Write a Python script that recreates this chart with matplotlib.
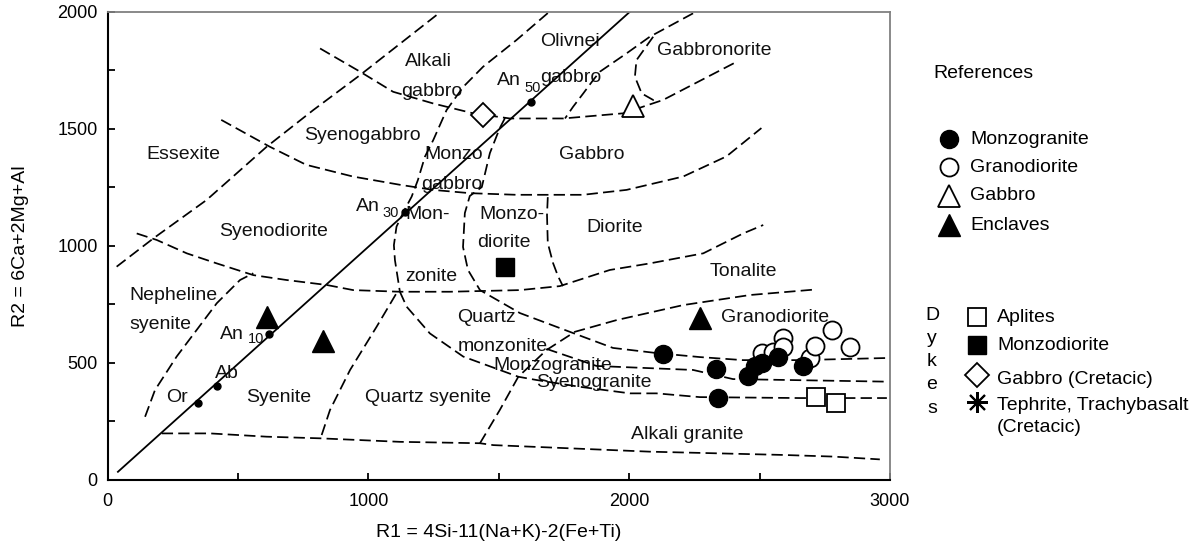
import numpy as np
import matplotlib.pyplot as plt

plt.rcParams['font.family'] = ['Liberation Sans', 'DejaVu Sans']

# samples, R1 / R2 values
monzogranite_x = [2129, 2331, 2339, 2456, 2482, 2508, 2571, 2667]
monzogranite_y = [538, 474, 350, 444, 487, 501, 526, 487]
granodiorite_x = [2508, 2552, 2590, 2590, 2693, 2712, 2776, 2846]
granodiorite_y = [541, 548, 605, 569, 520, 573, 640, 569]
gabbro_x = [2015]
gabbro_y = [1597]
enclave_x = [610, 827, 2271]
enclave_y = [695, 595, 690]
aplite_x = [2718, 2792]
aplite_y = [356, 330]
dyke_monzodiorite_x = [1524]
dyke_monzodiorite_y = [911]
gabbro_cret_x = [1440]
gabbro_cret_y = [1559]

# plagioclase line
plag_line_x = [40, 2003]
plag_line_y = [35, 2000]
plag_names = ['Or', 'Ab', 'An10', 'An30', 'An50']
plag_x = [346, 421, 619, 1140, 1623]
plag_y = [328, 403, 623, 1143, 1613]

# field boundaries (dashed)
bA_x = [35, 176, 380, 610, 789, 968, 1262]
bA_y = [911, 1032, 1196, 1423, 1580, 1729, 1986]
bB_x = [815, 968, 1095, 1249, 1402, 1543, 1747, 1977, 2130, 2412]
bB_y = [1843, 1744, 1658, 1608, 1566, 1544, 1544, 1566, 1623, 1786]
bC_x = [436, 621, 762, 941, 1120, 1248, 1389, 1568, 1823, 1990, 2207, 2373, 2507]
bC_y = [1538, 1424, 1346, 1296, 1261, 1239, 1225, 1218, 1218, 1239, 1296, 1382, 1503]
bD_x = [112, 189, 304, 419, 559, 687, 840, 942, 1121, 1313, 1581, 1734, 1926, 2079, 2284, 2437, 2514]
bD_y = [1053, 1025, 968, 925, 875, 854, 833, 811, 804, 804, 811, 828, 897, 925, 968, 1053, 1089]
bE_x = [1428, 1504, 1575, 1683, 1792, 1952, 2207, 2463, 2718]
bE_y = [157, 299, 441, 555, 633, 683, 747, 790, 814]
bF_x = [1121, 1147, 1236, 1364, 1575, 1645, 1811, 2003, 2105, 2271, 2654, 2988]
bF_y = [804, 740, 626, 527, 441, 427, 398, 370, 370, 354, 350, 350]
bH_x = [1688, 1568, 1440, 1364, 1300, 1249, 1217, 1190, 1166, 1134, 1108, 1098, 1102, 1121]
bH_y = [1994, 1879, 1765, 1679, 1580, 1452, 1381, 1281, 1210, 1143, 1082, 1003, 939, 804]
bI_x = [2245, 2079, 1990, 1888, 1862, 1824, 1785, 1754]
bI_y = [1993, 1893, 1822, 1744, 1708, 1651, 1594, 1544]
bJ_x = [1524, 1504, 1466, 1435, 1389, 1370, 1363, 1382, 1428, 1581, 1784, 1938, 2106, 2271, 2436, 2654, 2988]
bJ_y = [1546, 1503, 1396, 1251, 1213, 1140, 995, 897, 811, 713, 628, 564, 542, 525, 512, 512, 521]
bL_x = [1688, 1685, 1688, 1708, 1727, 1746]
bL_y = [1208, 1132, 1012, 927, 871, 828]
bM_x = [208, 393, 610, 815, 1121, 1428, 1479, 2079, 2590, 2782, 2961]
bM_y = [199, 199, 185, 178, 163, 157, 149, 121, 107, 100, 88]
bN_x = [1683, 1875, 2245, 2398, 2988]
bN_y = [560, 487, 470, 431, 420]
bO_x = [144, 182, 265, 342, 419, 508, 559]
bO_y = [270, 384, 527, 641, 755, 854, 883]
bP_x = [821, 853, 930, 1032, 1115]
bP_y = [192, 299, 470, 655, 811]
bQ_x = [2092, 2028, 2022, 2048, 2092, 2111]
bQ_y = [1893, 1793, 1722, 1651, 1623, 1628]

# field names
field_names = ['Alkali', 'gabbro', 'Olivnei', 'gabbro', 'Gabbronorite', 'Essexite',
               'Syenogabbro', 'Monzo', 'gabbro', 'Gabbro', 'Syenodiorite', 'Monzo-',
               'diorite', 'Diorite', 'Mon-', 'zonite', 'Tonalite', 'Nepheline', 'syenite',
               'Quartz', 'monzonite', 'Granodiorite', 'Syenite', 'Quartz syenite',
               'Monzogranite', 'Syenogranite', 'Alkali granite']
field_x = [1232, 1244, 1773, 1777, 2325, 291, 977, 1328, 1320, 1856, 638, 1552,
           1520, 1945, 1229, 1243, 2437, 252, 201, 1454, 1514, 2559, 657, 1230,
           1708, 1865, 2223]
field_y = [1789, 1661, 1872, 1719, 1833, 1392, 1473, 1392, 1260, 1392, 1063, 1136,
           1014, 1078, 1132, 868, 889, 790, 666, 694, 572, 694, 354, 354,
           487, 416, 196]

ref_labels = ['Monzogranite', 'Granodiorite', 'Gabbro', 'Enclaves']
dyke_labels = ['Aplites', 'Monzodiorite', 'Gabbro (Cretacic)', 'Tephrite, Trachybasalt']

fig = plt.figure(figsize=(11.98, 5.49), dpi=100)
ax = fig.add_axes([107.5/1198, 69/549, 782.5/1198, 468.3/549])

dash = (0, (6.5, 3))
bounds = [(bA_x, bA_y), (bB_x, bB_y), (bC_x, bC_y), (bD_x, bD_y), (bE_x, bE_y),
          (bF_x, bF_y), (bH_x, bH_y), (bI_x, bI_y), (bJ_x, bJ_y), (bL_x, bL_y),
          (bM_x, bM_y), (bN_x, bN_y), (bO_x, bO_y), (bP_x, bP_y), (bQ_x, bQ_y)]
for bx, by in bounds:
    ax.plot(bx, by, color='black', lw=1.25, linestyle=dash, zorder=2)

ax.plot(plag_line_x, plag_line_y, color='black', lw=1.3, zorder=2)
ax.plot(plag_x, plag_y, 'o', color='black', ms=5, zorder=3)

for name, x, y in zip(field_names, field_x, field_y):
    ax.text(x, y, name, fontsize=14, ha='center', va='center', color='#111111', zorder=1)

# plagioclase labels
ax.text(265, 354, 'Or', fontsize=14, ha='center', va='center', color='#111111')
ax.text(457, 453, 'Ab', fontsize=14, ha='center', va='center', color='#111111')
an_x = [478, 997, 1540]
an_y = [623, 1167, 1708]
sub_x = [570, 1085, 1631]
sub_y = [602, 1140, 1676]
for nm, x, y, sx, sy in zip(plag_names[2:], an_x, an_y, sub_x, sub_y):
    ax.text(x, y, 'An', fontsize=14, ha='center', va='center', color='#111111')
    ax.text(sx, sy, nm[2:], fontsize=10.5, ha='center', va='center', color='#111111')

# samples
ax.plot(monzogranite_x, monzogranite_y, 'o', color='black', ms=13, zorder=4)
ax.plot(granodiorite_x, granodiorite_y, 'o', mfc='white', mec='black', mew=1.3, ms=13, zorder=3)
ax.plot(gabbro_x, gabbro_y, '^', mfc='white', mec='black', mew=1.3, ms=16, zorder=4)
ax.plot(enclave_x, enclave_y, '^', color='black', ms=16, zorder=4)
ax.plot(aplite_x, aplite_y, 's', mfc='white', mec='black', mew=1.3, ms=13, zorder=4)
ax.plot(dyke_monzodiorite_x, dyke_monzodiorite_y, 's', color='black', ms=13, zorder=4)
ax.plot(gabbro_cret_x, gabbro_cret_y, 'D', mfc='white', mec='black', mew=1.3, ms=12, zorder=4)

ax.set_xlim(0, 3000)
ax.set_ylim(0, 2000)
ax.set_xticks([0, 1000, 2000, 3000])
ax.set_xticks(np.arange(500, 3000, 1000), minor=True)
ax.set_yticks(np.arange(0, 2001, 500))
ax.set_yticks(np.arange(250, 2000, 500), minor=True)
ax.tick_params(which='both', direction='in', length=5, width=1.3, labelsize=13, pad=7)
ax.tick_params(axis='x', pad=9)
for s in ['left', 'bottom']:
    ax.spines[s].set_linewidth(1.5)
    ax.spines[s].set_color('black')
for s in ['top', 'right']:
    ax.spines[s].set_linewidth(1.3)
    ax.spines[s].set_color('#808080')

ax.set_xlabel('R1 = 4Si-11(Na+K)-2(Fe+Ti)', fontsize=14)
ax.xaxis.set_label_coords(0.5, -0.093)
ax.set_ylabel('R2 = 6Ca+2Mg+Al', fontsize=14)
ax.yaxis.set_label_coords(-0.1, 0.5)

# legend drawn in pixel coordinates of the figure
lax = fig.add_axes([0, 0, 1, 1], zorder=-1)
lax.set_xlim(0, 1198)
lax.set_ylim(549, 0)
lax.axis('off')
lax.text(933, 74, 'References', fontsize=14, ha='left', va='center')
ref_y = [139, 167, 196, 225]
ref_styles = [dict(marker='o', color='black', ms=13),
              dict(marker='o', mfc='white', mec='black', mew=1.3, ms=13),
              dict(marker='^', mfc='white', mec='black', mew=1.3, ms=16),
              dict(marker='^', color='black', ms=16)]
for lab, y, st in zip(ref_labels, ref_y, ref_styles):
    lax.plot([949], [y], linestyle='none', **st)
    lax.text(970, y, lab, fontsize=14, ha='left', va='center')

for i, ch in enumerate('Dykes'):
    lax.text(932, 315 + i * 23.3, ch, fontsize=14, ha='center', va='center')
dyke_y = [317, 345, 375, 402]
dyke_styles = [dict(marker='s', mfc='white', mec='black', mew=1.3, ms=13),
               dict(marker='s', color='black', ms=13),
               dict(marker='D', mfc='white', mec='black', mew=1.3, ms=12),
               dict(marker=(8, 2, 0), color='black', mew=1.5, ms=15)]
dyke_text_y = [317, 345, 380, 406]
for lab, y, ty, st in zip(dyke_labels, dyke_y, dyke_text_y, dyke_styles):
    lax.plot([977], [y], linestyle='none', **st)
    lax.text(997, ty, lab, fontsize=14, ha='left', va='center')
lax.text(997, 428, '(Cretacic)', fontsize=14, ha='left', va='center')

fig.savefig('out.png', dpi=100)
